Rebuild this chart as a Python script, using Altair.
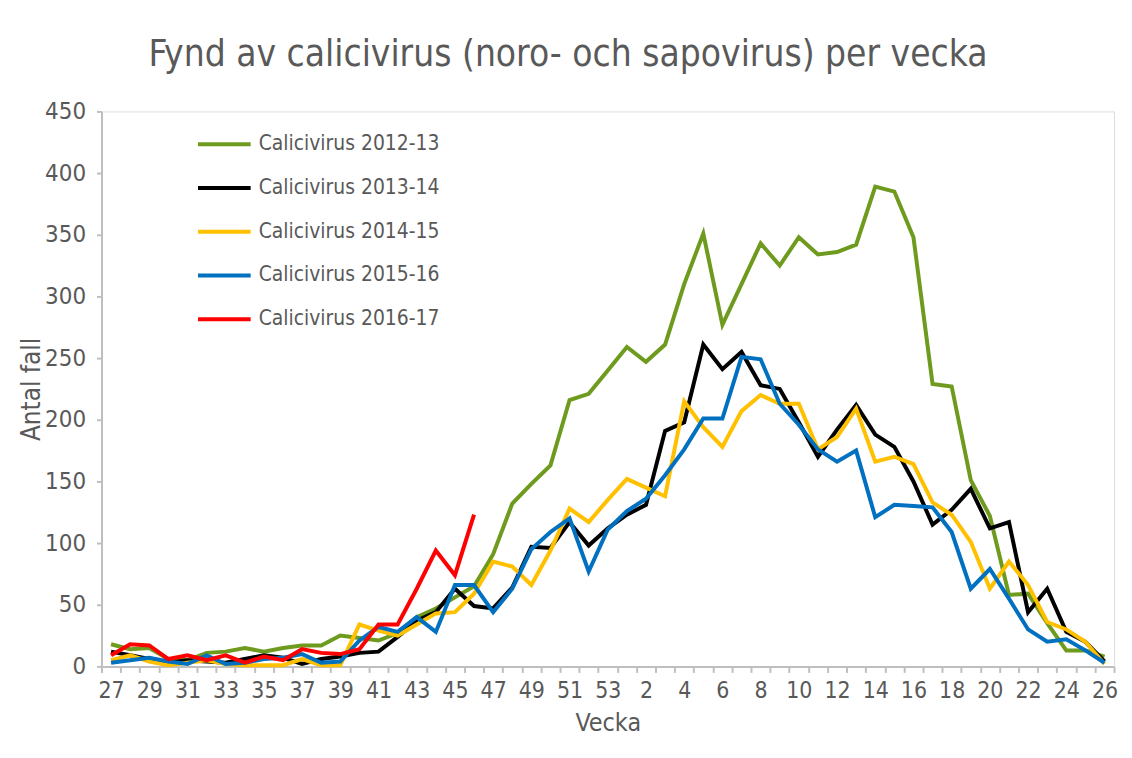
import altair as alt
import pandas as pd

weeks = [str(w) for w in list(range(27, 54)) + list(range(1, 27))]

series_names = [
    "Calicivirus 2012-13",
    "Calicivirus 2013-14",
    "Calicivirus 2014-15",
    "Calicivirus 2015-16",
    "Calicivirus 2016-17",
]
series_colors = ["#6E9A1E", "#000000", "#FFC000", "#0070C0", "#FF0000"]

v2012 = [18, 14, 15, 6, 5, 11, 12, 15, 12, 15, 17, 17, 25, 23, 21, 27, 40, 47, 56, 65,
         91, 132, 148, 163, 216, 221, 240, 259, 247, 261, 310, 351, 277, 310, 343, 325,
         348, 334, 336, 342, 389, 385, 348, 229, 227, 151, 122, 58, 59, 35, 13, 13, 8]
v2013 = [12, 9, 6, 3, 5, 4, 3, 6, 9, 7, 2, 6, 8, 11, 12, 24, 37, 44, 63, 49,
         47, 64, 97, 96, 117, 98, 112, 123, 131, 191, 198, 261, 241, 255, 228, 225,
         198, 170, 192, 212, 188, 178, 150, 115, 127, 144, 112, 117, 44, 63, 28, 20, 4]
v2014 = [5, 9, 4, 1, 3, 5, 2, 1, 1, 1, 6, 1, 1, 34, 29, 25, 34, 43, 44, 59,
         85, 81, 66, 94, 128, 117, 135, 152, 145, 138, 215, 194, 178, 207, 220, 213,
         213, 176, 186, 209, 166, 170, 164, 133, 123, 101, 63, 85, 66, 36, 30, 20, 2]
v2015 = [3, 5, 7, 4, 2, 9, 2, 3, 6, 7, 10, 3, 4, 21, 32, 28, 40, 28, 66, 66,
         44, 63, 95, 109, 120, 77, 111, 126, 136, 155, 176, 201, 201, 251, 249, 213,
         196, 176, 166, 175, 121, 131, 130, 129, 109, 63, 79, 55, 30, 20, 22, 13, 3]
v2016 = [9, 18, 17, 6, 9, 5, 9, 3, 8, 5, 14, 11, 10, 14, 34, 34, 63, 94, 74, 123]

all_values = [v2012, v2013, v2014, v2015, v2016]

rows = []
for name, vals in zip(series_names, all_values):
    for i, v in enumerate(vals):
        rows.append({"Vecka": weeks[i], "idx": i, "serie": name, "antal": v})
df = pd.DataFrame(rows)

label_weeks = weeks[::2]
label_expr = ("indexof([" + ",".join("'" + w + "'" for w in label_weeks)
              + "], datum.label) >= 0 ? datum.label : ''")

FONT = "DejaVu Sans Condensed, DejaVu Sans"
TXT = "#595959"
AX = "#BFBFBF"

chart = alt.Chart(df).mark_line(strokeWidth=4, strokeJoin="miter").encode(
    x=alt.X(
        "Vecka:O",
        sort=weeks,
        bandPosition=0.5,
        scale=alt.Scale(type="band", paddingInner=0, paddingOuter=0),
        axis=alt.Axis(
            title="Vecka",
            labelExpr=label_expr,
            labelOverlap=False,
            labelAngle=0,
            tickBand="extent",
            tickSize=6,
            tickColor=AX,
            tickWidth=2,
            domainColor=AX,
            domainWidth=2,
            labelPadding=7,
            labelFontSize=23,
            labelColor=TXT,
            labelFont=FONT,
            titleFont=FONT,
            titleFontSize=25,
            titleFontWeight="normal",
            titleColor=TXT,
            titleY=56,
            titleBaseline="middle",
        ),
    ),
    y=alt.Y(
        "antal:Q",
        scale=alt.Scale(domain=[0, 450], nice=False),
        axis=alt.Axis(
            title="Antal fall",
            values=list(range(0, 451, 50)),
            grid=False,
            tickSize=5,
            tickColor=AX,
            tickWidth=2,
            domainColor=AX,
            domainWidth=2,
            labelPadding=11,
            labelFontSize=24,
            labelColor=TXT,
            labelFont=FONT,
            titleFont=FONT,
            titleFontSize=26,
            titleFontWeight="normal",
            titleColor=TXT,
            titleX=-70,
            titleBaseline="middle",
        ),
    ),
    color=alt.Color(
        "serie:N",
        scale=alt.Scale(domain=series_names, range=series_colors),
        legend=alt.Legend(
            title=None,
            orient="none",
            legendX=95,
            legendY=18,
            padding=0,
            symbolType="stroke",
            symbolSize=2800,
            symbolStrokeWidth=4,
            clipHeight=30,
            rowPadding=14,
            labelOffset=6,
            labelLimit=400,
            labelFontSize=21,
            labelColor=TXT,
            labelFont=FONT,
        ),
    ),
    order=alt.Order("idx:Q"),
).properties(
    width=1018,
    height=558,
    title=alt.TitleParams(
        "Fynd av calicivirus (noro- och sapovirus) per vecka",
        font=FONT,
        fontSize=37,
        fontWeight="normal",
        color=TXT,
        anchor="middle",
        dx=-40,
        offset=26,
    ),
    autosize=alt.AutoSizeParams(type="none"),
    padding={"left": 94, "top": 102, "right": 10, "bottom": 72},
).configure_view(stroke=None).configure(background="white")

chart.save("out.html", embed_options={"renderer": "svg", "actions": False})
